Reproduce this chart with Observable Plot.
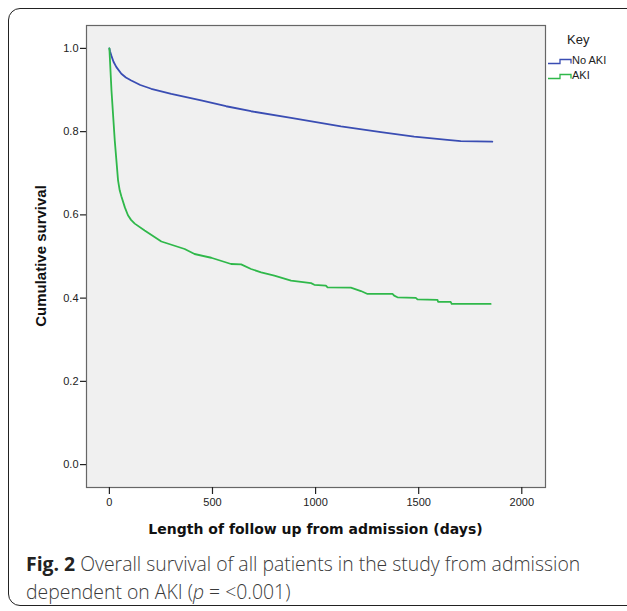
<!DOCTYPE html>
<html>
<head>
<meta charset="utf-8">
<script src="https://cdn.jsdelivr.net/npm/d3@7"></script>
<script src="https://cdn.jsdelivr.net/npm/@observablehq/plot@0.6"></script>
<style>
  html, body { margin: 0; padding: 0; background: #fff; }
  body { width: 627px; height: 611px; position: relative; overflow: hidden; }
  #border { position: absolute; left: 8px; top: 8px; width: 660px; height: 598px; border: 1.5px solid #222; border-radius: 12px; box-sizing: border-box; }
  #chart { position: absolute; left: 0; top: 0; }
  #legend { position: absolute; left: 545px; top: 30px; font-family: "Liberation Sans", Arial, sans-serif; color: #222; }
  #legend .key { position: absolute; left: 22px; top: 2px; font-size: 13px; }
  #legend .row { position: absolute; left: 2px; font-size: 11px; white-space: nowrap; }
  #legend svg { vertical-align: middle; }
  #caption { position: absolute; left: 26px; top: 550px; font-family: "Open Sans", sans-serif; font-size: 19.4px; line-height: 28px; color: #3a3a3a; font-weight: 300; }
  #caption b { font-weight: 700; color: #222; }
</style>
</head>
<body>
<div id="border"></div>
<div id="chart"></div>
<div id="legend"></div>
<div id="caption"><b>Fig. 2</b> Overall survival of all patients in the study from admission<br>dependent on AKI (<i>p</i> = &lt;0.001)</div>
<script>
// Series: No AKI (days, survival)
const noAkiDays = [0, 3, 10, 20, 34, 58, 80, 106, 150, 203, 300, 445, 566, 687, 881, 1123, 1317, 1478, 1639, 1704, 1857];
const noAkiSurv = [1.0, 0.993, 0.982, 0.968, 0.955, 0.939, 0.930, 0.923, 0.912, 0.903, 0.891, 0.875, 0.861, 0.849, 0.833, 0.8125, 0.799, 0.788, 0.780, 0.777, 0.776];
// Series: AKI
const akiDays = [0, 10, 26, 42, 50, 58, 75, 90, 105, 123, 171, 252, 365, 413, 494, 590, 639, 687, 736, 800, 881, 978, 994, 1050, 1058, 1171, 1220, 1252, 1373, 1381, 1397, 1486, 1494, 1591, 1594, 1655, 1660, 1849];
const akiSurv = [1.0, 0.90, 0.779, 0.683, 0.659, 0.645, 0.618, 0.599, 0.588, 0.579, 0.5625, 0.536, 0.518, 0.506, 0.497, 0.482, 0.481, 0.470, 0.462, 0.454, 0.442, 0.436, 0.432, 0.430, 0.426, 0.425, 0.417, 0.410, 0.410, 0.406, 0.402, 0.4006, 0.397, 0.396, 0.391, 0.391, 0.386, 0.386];
const seriesNames = ["No AKI", "AKI"];
const seriesColors = ["#3a4db3", "#2fb84a"];
const xTicks = [0, 500, 1000, 1500, 2000];
const yTicks = [0, 0.2, 0.4, 0.6, 0.8, 1.0];

const data = [
  ...noAkiDays.map((d, i) => ({group: seriesNames[0], day: d, s: noAkiSurv[i]})),
  ...akiDays.map((d, i) => ({group: seriesNames[1], day: d, s: akiSurv[i]}))
];

const plot = Plot.plot({
  width: 627,
  height: 545,
  marginLeft: 86,
  marginRight: 82,
  marginTop: 25,
  marginBottom: 58,
  style: {fontFamily: "'Liberation Sans', Arial, sans-serif", fontSize: "11px", color: "#222", background: "transparent"},
  x: {domain: [-111, 2115], ticks: xTicks, tickSize: 7, tickPadding: 4, label: null, tickFormat: d3.format("d")},
  y: {domain: [-0.055, 1.055], ticks: yTicks, tickSize: 6, tickPadding: 2, label: null, tickFormat: d3.format(".1f")},
  color: {domain: seriesNames, range: seriesColors},
  marks: [
    Plot.frame({fill: "#f0f0f0", stroke: "#666", strokeWidth: 1.2}),
    Plot.axisX({ticks: xTicks, tickSize: 7, tickPadding: 4, tickFormat: d3.format("d"), stroke: "#222", strokeWidth: 1.2}),
    Plot.axisY({ticks: yTicks, tickSize: 6, tickPadding: 2, tickFormat: d3.format(".1f"), stroke: "#222", strokeWidth: 1.2}),
    Plot.line(data, {x: "day", y: "s", z: "group", stroke: "group", strokeWidth: 1.8, curve: "linear"})
  ]
});

const svg = d3.select(plot);
// axis titles
svg.append("text")
  .attr("x", (86 + 545) / 2).attr("y", 534)
  .attr("text-anchor", "middle")
  .attr("font-family", "'DejaVu Sans', Verdana, sans-serif")
  .attr("font-weight", "bold").attr("font-size", 14).attr("fill", "#111")
  .text("Length of follow up from admission (days)");
svg.append("text")
  .attr("transform", `translate(46, ${(25 + 487) / 2}) rotate(-90)`)
  .attr("text-anchor", "middle")
  .attr("font-family", "'Liberation Sans', Arial, sans-serif")
  .attr("font-weight", "bold").attr("font-size", 15).attr("fill", "#111")
  .text("Cumulative survival");

document.getElementById("chart").appendChild(plot);

// legend
const legend = document.getElementById("legend");
legend.innerHTML = `<div class="key">Key</div>` + seriesNames.map((n, i) =>
  `<div class="row" style="top:${24 + i * 15}px"><svg width="25" height="8"><path d="M1,6.5H13V2.5H24V6.5" fill="none" stroke="${seriesColors[i]}" stroke-width="1.3"/></svg>${n}</div>`
).join("");
</script>
</body>
</html>
